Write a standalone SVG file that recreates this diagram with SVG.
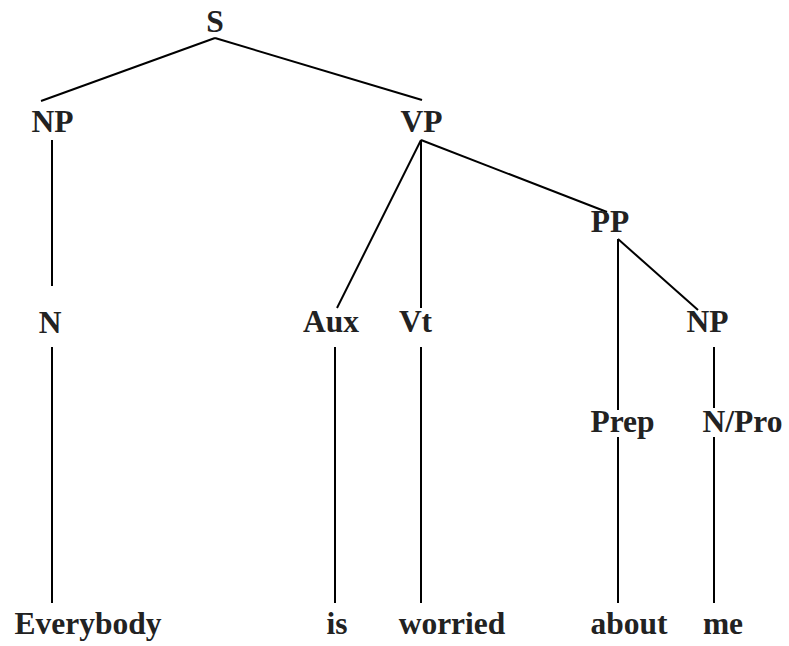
<svg xmlns="http://www.w3.org/2000/svg" width="789" height="646" viewBox="0 0 789 646">
<style>
text{font-family:"Liberation Serif","Times New Roman",serif;font-weight:bold;font-size:31.5px;fill:#222;text-anchor:middle}
.e line{stroke:#000;stroke-width:2;stroke-linecap:butt}
</style>
<rect width="789" height="646" fill="#fff"/>
<g class="e" id="edges">
<line x1="215" y1="38" x2="41" y2="101"/>
<line x1="215" y1="38" x2="422" y2="100"/>
<line x1="52" y1="140" x2="52" y2="286"/>
<line x1="52" y1="347" x2="52" y2="603"/>
<line x1="421" y1="140" x2="337" y2="308"/>
<line x1="421" y1="140" x2="421" y2="308"/>
<line x1="421" y1="140" x2="607" y2="212"/>
<line x1="335" y1="347" x2="335" y2="603"/>
<line x1="421" y1="347" x2="421" y2="603"/>
<line x1="618" y1="239" x2="698" y2="310"/>
<line x1="618" y1="239" x2="618" y2="410"/>
<line x1="618" y1="437" x2="618" y2="603"/>
<line x1="714" y1="347" x2="714" y2="408"/>
<line x1="714" y1="437" x2="714" y2="603"/>
</g>
<g id="S"><text x="215" y="32">S</text></g>
<g id="NP1"><text x="52.5" y="132">NP</text></g>
<g id="VP"><text x="421.5" y="132">VP</text></g>
<g id="PP"><text x="610" y="232">PP</text></g>
<g id="N"><text x="50" y="333">N</text></g>
<g id="Aux"><text x="331" y="332">Aux</text></g>
<g id="Vt"><text x="415.5" y="332">Vt</text></g>
<g id="NP2"><text x="707.5" y="332">NP</text></g>
<g id="Prep"><text x="622.5" y="432">Prep</text></g>
<g id="NPro"><text x="742.5" y="432">N/Pro</text></g>
<g id="Everybody"><text x="88" y="634">Everybody</text></g>
<g id="is"><text x="337" y="634">is</text></g>
<g id="worried"><text x="452" y="634">worried</text></g>
<g id="about"><text x="629" y="634">about</text></g>
<g id="me"><text x="723" y="634">me</text></g>
</svg>
